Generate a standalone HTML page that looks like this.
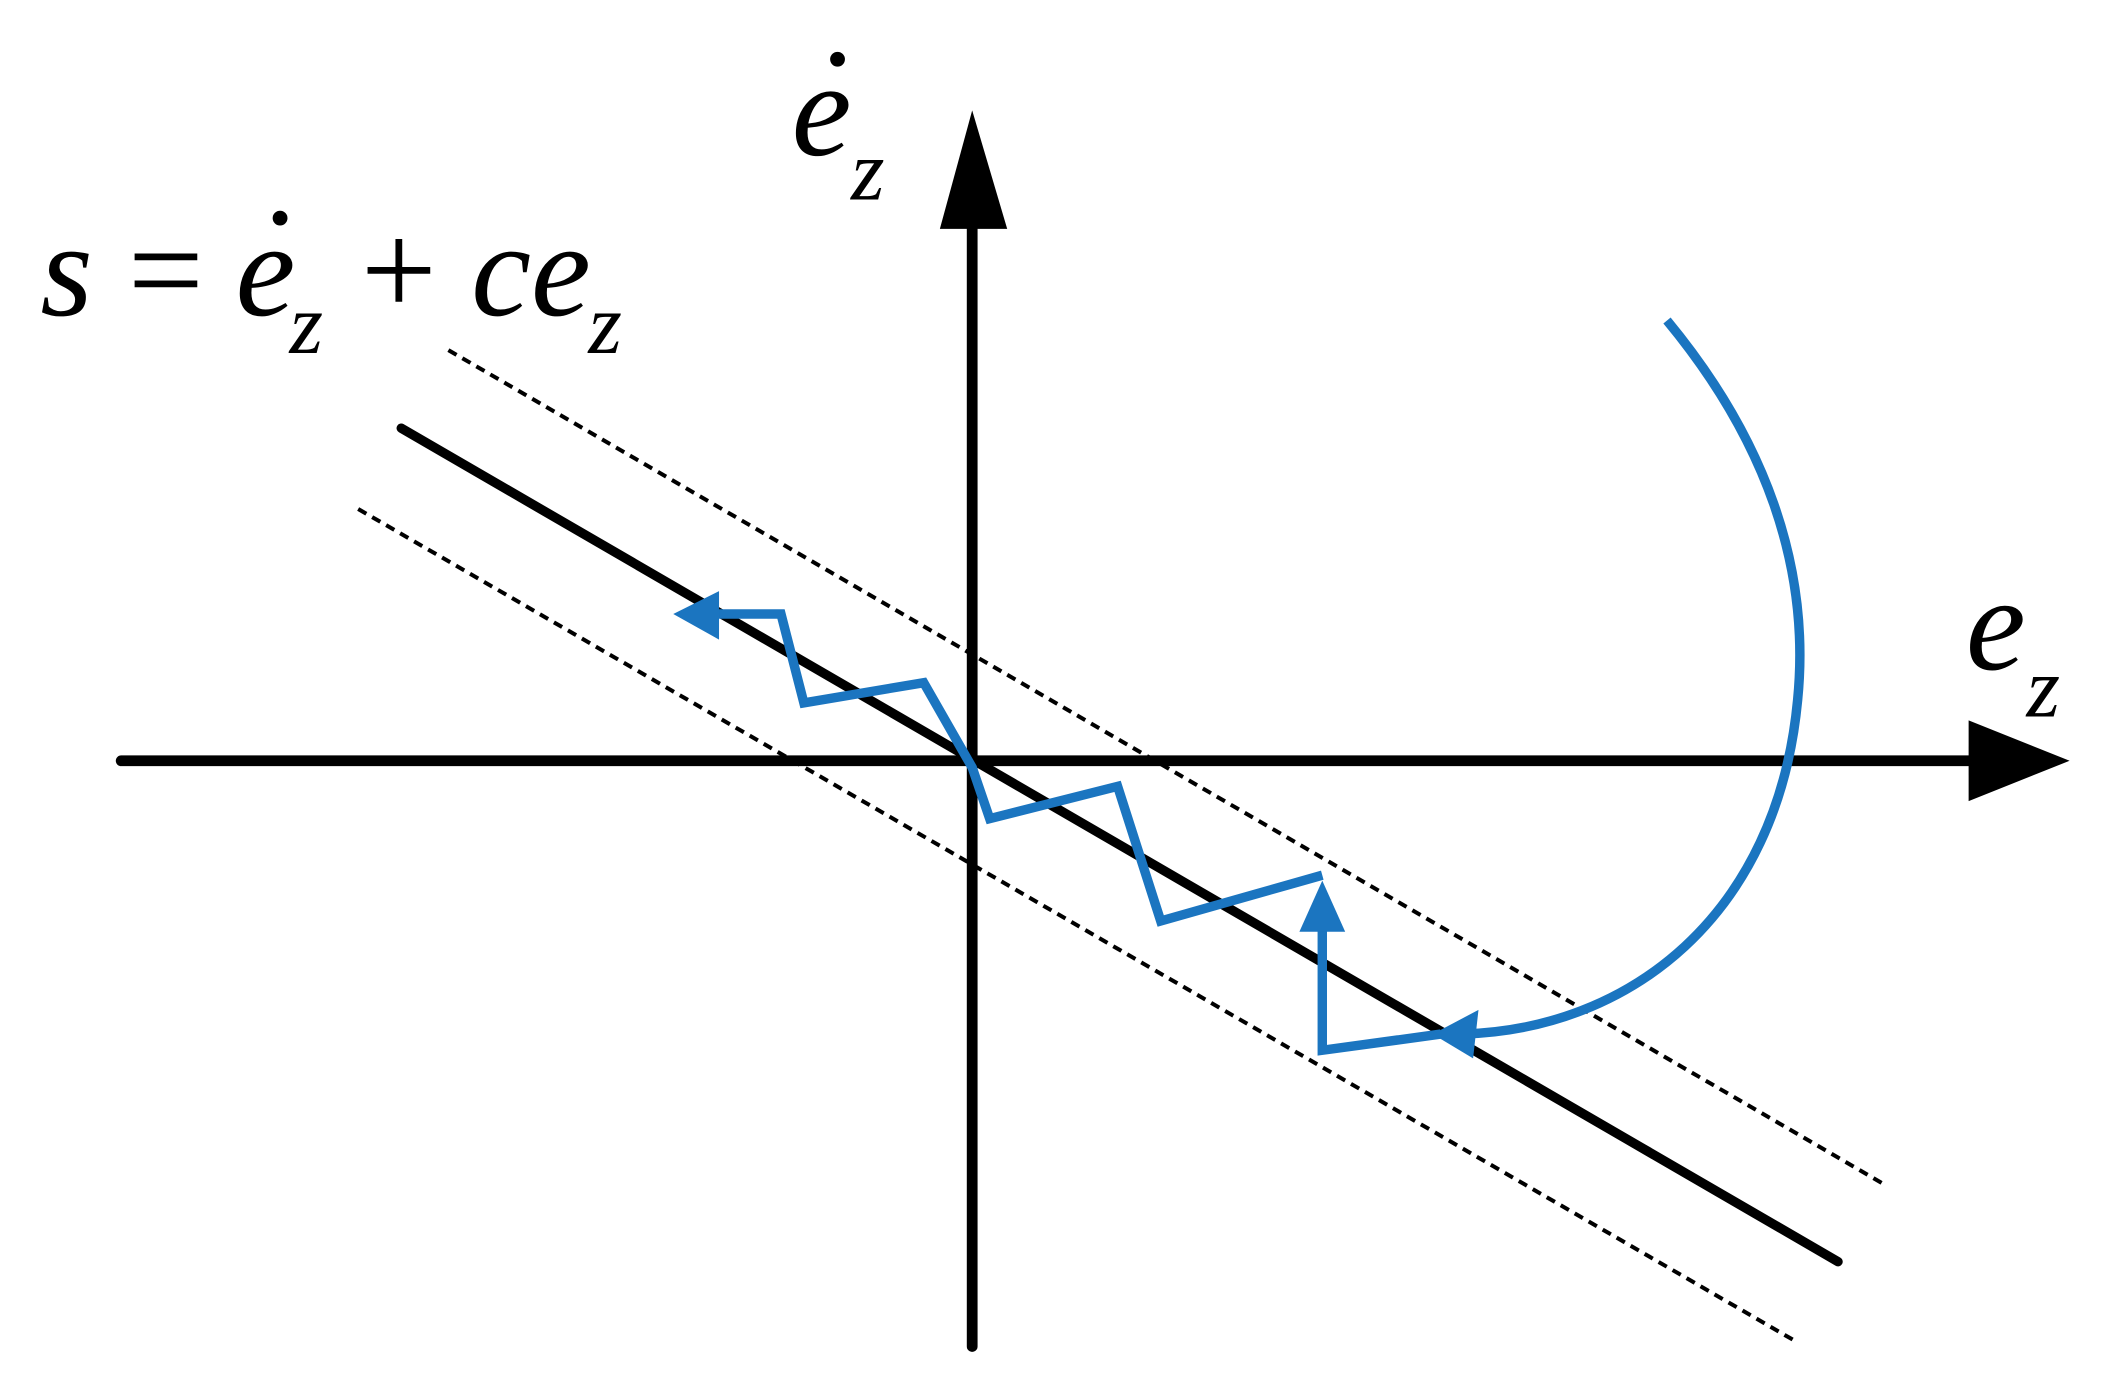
<!DOCTYPE html>
<html><head><meta charset="utf-8"><style>
html,body{margin:0;padding:0;background:#fff;}
svg{display:block;}
text{font-family:"Liberation Serif","DejaVu Serif",serif;font-style:italic;fill:#000;}
</style></head><body>
<svg width="2110" height="1399" viewBox="0 0 1567 1039" preserveAspectRatio="none" xmlns="http://www.w3.org/2000/svg">
<rect width="1567" height="1039" fill="#fff"/>
<line x1="90" y1="565" x2="1465" y2="565" stroke="#000" stroke-width="8" stroke-linecap="round"/>
<polygon points="1462,535 1537,565 1462,595" fill="#000"/>
<line x1="722" y1="1000" x2="722" y2="165" stroke="#000" stroke-width="8" stroke-linecap="round"/>
<polygon points="698,170 722,82 748,170" fill="#000"/>
<line x1="298" y1="318" x2="1365" y2="937" stroke="#000" stroke-width="7" stroke-linecap="round"/>
<line x1="333" y1="260" x2="1400" y2="880" stroke="#000" stroke-width="3" stroke-dasharray="7,5"/>
<line x1="266" y1="378" x2="1335" y2="997" stroke="#000" stroke-width="3" stroke-dasharray="7,5"/>
<g stroke="#1b75c0" stroke-width="7" fill="none" stroke-linejoin="miter">
<path d="M1238,238 C1310,325 1345,420 1335,520 C1320,680 1210,765 1085,768"/>
<polyline points="982,690 982,780 1070,768"/>
<polyline points="982,650 862,684 830,584 735,608 722,570 686,507 597,522 580,456 530,456"/>
</g>
<g fill="#1b75c0">
<polygon points="1064,768 1098,750 1094,786"/>
<polygon points="982,654 965,692 999,692"/>
<polygon points="500,456 534,439 534,475"/>
</g>
<text x="588" y="115" font-size="100">e</text>
<circle cx="622" cy="44" r="5.5" fill="#000"/>
<text x="632" y="148" font-size="64">z</text>
<text x="30" y="234" font-size="100">s</text>
<text x="95" y="234" font-size="100" style="font-style:normal">=</text>
<text x="175" y="234" font-size="100">e</text>
<circle cx="208" cy="162" r="5.5" fill="#000"/>
<text x="215" y="262" font-size="64">z</text>
<text x="268" y="234" font-size="100" style="font-style:normal">+</text>
<text x="350" y="234" font-size="100">ce</text>
<text x="437" y="262" font-size="64">z</text>
<text x="1460" y="497" font-size="100">e</text>
<text x="1505" y="532" font-size="64">z</text>
</svg>
</body></html>
